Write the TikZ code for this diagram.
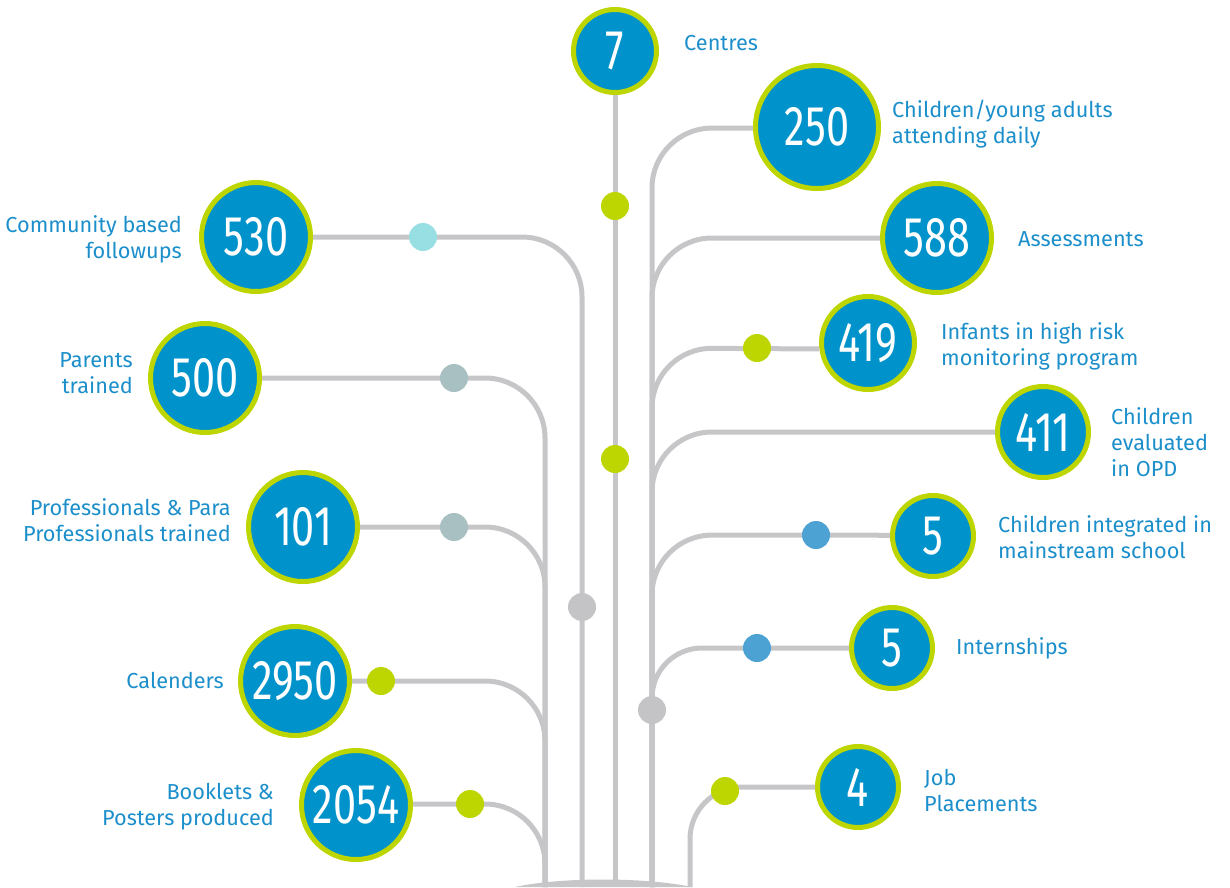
\documentclass[tikz,border=0pt]{standalone}
\usepackage{fontspec}
\setmainfont{Fira Sans}
\newfontfamily\numfont[FakeStretch=0.74]{Fira Sans}
\usetikzlibrary{positioning}
\definecolor{statblue}{HTML}{0093CB}
\definecolor{statlime}{HTML}{BDD500}
\definecolor{trunkgray}{HTML}{C6C5C7}
\definecolor{lblblue}{HTML}{1C8FCB}
\definecolor{dotcyan}{HTML}{98DFE3}
\definecolor{dotteal}{HTML}{A8C0C1}
\definecolor{dotblue}{HTML}{4BA2D3}
\definecolor{dotgray}{HTML}{C4C3C5}
\tikzset{stat/.style = {circle, fill=statblue, draw=statlime, line width=5pt, inner sep=0, text=white, font=\numfont\fontsize{56}{56}\selectfont}}
\tikzset{dot/.style = {circle, inner sep=0, minimum size=28pt}}
\tikzset{trunk/.style = {draw=trunkgray, line width=5pt, rounded corners=60pt}}
\tikzset{lbl/.style = {text=lblblue, font=\fontsize{21.7}{26}\selectfont, inner sep=0}}
\begin{document}
\begin{tikzpicture}[x=1pt, y=-1pt]
          \useasboundingbox (0,0) rectangle (1230,887);

          % circles
          \node [stat, minimum size=83] (c7) at (615, 51) {7};
          \node [stat, minimum size=123] (c250) at (817, 127) {250};
          \node [stat, minimum size=109] (c588) at (937, 238) {588};
          \node [stat, minimum size=93] (c419) at (868, 343) {419};
          \node [stat, minimum size=91] (c411) at (1043, 432) {411};
          \node [stat, minimum size=81] (c5a) at (933, 536) {5};
          \node [stat, minimum size=81] (c5b) at (892, 648) {5};
          \node [stat, minimum size=81] (c4) at (858, 787) {4};
          \node [stat, minimum size=109] (c530) at (256, 237) {530};
          \node [stat, minimum size=109] (c500) at (205, 378) {500};
          \node [stat, minimum size=109] (c101) at (303, 527) {101};
          \node [stat, minimum size=109] (c2950) at (295, 681) {2950};
          \node [stat, minimum size=109] (c2054) at (356, 805) {2054};

          \coordinate (base) at (615, 887);

          % branches
          \draw [trunk] (c7) -- (base);
          \draw [trunk] (c530) -- (582, 237) -- (582, 887);
          \draw [trunk] (c500) -- (545, 378) -- (545, 887);
          \draw [trunk] (c101) -- (545, 527) -- (545, 887);
          \draw [trunk] (c2950) -- (545, 681) -- (545, 887);
          \draw [trunk] (c2054.1) -- (545, 804) -- (545, 887);
          \draw [trunk] (c250.181) -- (652, 128) -- (652, 887);
          \draw [trunk] (c588) -- (652, 238) -- (652, 887);
          \draw [trunk] (c419.187) -- (652, 348) -- (652, 887);
          \draw [trunk] (c411) -- (652, 432) -- (652, 887);
          \draw [trunk] (c5a.179) -- (652, 535) -- (652, 887);
          \draw [trunk, rounded corners=50] (c5b) -- (652, 648) -- (652, 887);
          \draw [trunk, rounded corners=52] (c4) -- (690, 787) -- (690, 887);
          \fill [trunkgray] (515, 887) .. controls (560, 877) and (645, 877) .. (692, 887) -- cycle;

          % dots
          \node [dot, fill=statlime] (d7a) at (615, 206) {};
          \node [dot, fill=statlime] (d7b) at (615, 459) {};
          \node [dot, fill=dotgray] (dleft) at (582, 607) {};
          \node [dot, fill=dotgray] (dright) at (652, 710) {};
          \node [dot, fill=dotcyan] (d530) at (423, 237) {};
          \node [dot, fill=dotteal] (d500) at (454, 378) {};
          \node [dot, fill=dotteal] (d101) at (454, 527) {};
          \node [dot, fill=statlime] (d2950) at (381, 681) {};
          \node [dot, fill=statlime] (d2054) at (470, 804) {};
          \node [dot, fill=statlime] (d419) at (757, 348) {};
          \node [dot, fill=dotblue] (d5a) at (816, 535) {};
          \node [dot, fill=dotblue] (d5b) at (757, 648) {};
          \node [dot, fill=statlime] (d4) at (725, 791) {};

          % labels
          \node [lbl, anchor=west] (l7) at (684, 43) {Centres};
          \node [lbl, anchor=west, align=left] (l250) at (892, 124) {Children/young adults\\attending daily};
          \node [lbl, anchor=west] (l588) at (1018, 239) {Assessments};
          \node [lbl, anchor=west, align=left] (l419) at (941, 346) {Infants in high risk\\monitoring program};
          \node [lbl, anchor=west, align=left] (l411) at (1111, 442) {Children\\evaluated\\in OPD};
          \node [lbl, anchor=west, align=left] (l5a) at (998, 537) {Children integrated in\\mainstream school};
          \node [lbl, anchor=west] (l5b) at (956, 648) {Internships};
          \node [lbl, anchor=west, align=left] (l4) at (924, 790) {Job\\Placements};
          \node [lbl, anchor=east, align=right] (l530) at (182, 239) {Community based\\followups};
          \node [lbl, anchor=east, align=right] (l500) at (133, 373) {Parents\\trained};
          \node [lbl, anchor=east, align=right] (l101) at (231, 520) {Professionals \& Para\\Professionals trained};
          \node [lbl, anchor=east] (l2950) at (224, 680) {Calenders};
          \node [lbl, anchor=east, align=right] (l2054) at (274, 807) {Booklets \&\\Posters produced};
        \end{tikzpicture}
\end{document}
